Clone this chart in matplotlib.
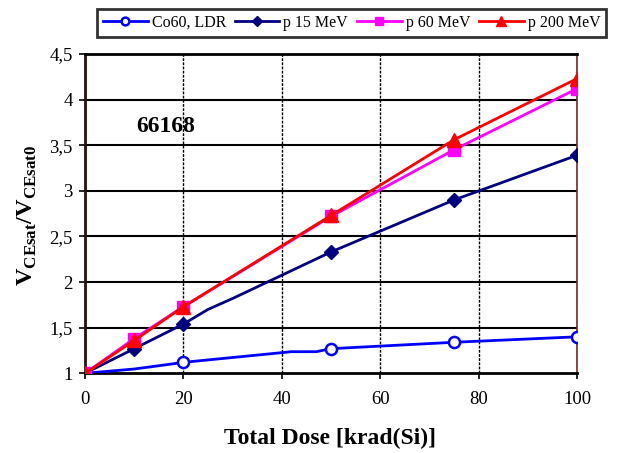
import matplotlib
matplotlib.use('Agg')
import matplotlib.pyplot as plt

plt.rcParams['font.family'] = ['Liberation Serif', 'DejaVu Serif']
plt.rcParams['mathtext.fontset'] = 'custom'
plt.rcParams['mathtext.rm'] = 'Liberation Serif'
plt.rcParams['mathtext.bf'] = 'Liberation Serif:bold'

# dose in krad(Si) and normalised VCEsat for each irradiation
co60_dose = [0, 10, 15, 20, 42, 47, 50, 75, 100]
co60_val = [1.0, 1.047, 1.083, 1.12, 1.237, 1.237, 1.27, 1.34, 1.40]
co60_marks = [0, 3, 6, 7, 8]

p15_dose = [0, 10, 20, 25, 30, 50, 75, 100]
p15_val = [1.0, 1.27, 1.54, 1.70, 1.82, 2.33, 2.90, 3.39]
p15_marks = [0, 1, 2, 5, 6, 7]

p60_dose = [0, 10, 20, 50, 75, 100]
p60_val = [1.0, 1.38, 1.73, 2.72, 3.45, 4.12]

p200_dose = [0, 10, 20, 50, 75, 100]
p200_val = [1.0, 1.36, 1.73, 2.73, 3.56, 4.23]

labels = ['Co60, LDR', 'p 15 MeV', 'p 60 MeV', 'p 200 MeV']
xticks = [0, 20, 40, 60, 80, 100]
yticks = [1, 1.5, 2, 2.5, 3, 3.5, 4, 4.5]

fig = plt.figure(figsize=(6.17, 4.53), dpi=100)
ax = fig.add_axes([85 / 617, 1 - 373.3 / 453, 492 / 617, 319.3 / 453])

# grid: solid horizontal, dashed vertical
for y in yticks[1:]:
    ax.axhline(y, color='black', lw=1.5, zorder=1)
for x in xticks[1:]:
    ax.axvline(x, color='black', lw=1.0, ls=(0, (2, 1)), zorder=1)

ax.plot(co60_dose, co60_val, color='#0000FF', lw=2, marker='o', markevery=co60_marks,
        ms=8, mfc='white', mec='#0000FF', mew=1.8, label=labels[0], zorder=3)
ax.plot(p15_dose, p15_val, color='#000080', lw=2, marker='D', markevery=p15_marks,
        ms=7.5, mfc='#000080', mec='#000080', label=labels[1], zorder=3)
ax.plot(p60_dose, p60_val, color='#FF00FF', lw=2, marker='s',
        ms=8, mfc='#FF00FF', mec='#FF00FF', label=labels[2], zorder=3)
ax.plot(p200_dose, p200_val, color='#FF0000', lw=2, marker='^',
        ms=10.5, mfc='#FF0000', mec='#FF0000', label=labels[3], zorder=4)

ax.set_xlim(0, 100)
ax.set_ylim(1, 4.5)
ax.set_xticks(xticks)
ax.set_yticks(yticks)
ax.set_yticklabels([('%g' % v).replace('.', ',') for v in yticks])
ax.tick_params(direction='out', length=4, width=1.2, labelsize=13.5, pad=5)
ax.tick_params(axis='x', pad=9)

ax.spines['left'].set_color('#2b0f0f')
ax.spines['left'].set_linewidth(2)
ax.spines['bottom'].set_color('black')
ax.spines['bottom'].set_linewidth(2)
ax.spines['top'].set_color('black')
ax.spines['top'].set_linewidth(2)
ax.spines['right'].set_color('#7a2a2a')
ax.spines['right'].set_linewidth(1.2)

ax.text(16.3, 3.70, '66168', fontsize=17, fontweight='bold', ha='center', va='center')

fig.text(330 / 617, 1 - 438 / 453, 'Total Dose [krad(Si)]', fontsize=17,
         fontweight='bold', ha='center', va='center')
fig.text(27 / 617, 1 - 215 / 453,
         r'$\mathbf{V}_{\mathbf{CEsat}}\mathbf{/V}_{\mathbf{CEsat0}}$',
         fontsize=17.5, rotation=90, ha='center', va='center')

leg = fig.legend(loc='center', bbox_to_anchor=(351.5 / 617, 1 - 23 / 453),
                 ncol=4, fontsize=11.5, frameon=True, fancybox=False, markerscale=0.7,
                 handlelength=2.8, handletextpad=0.25, columnspacing=0.55,
                 borderaxespad=0, borderpad=0.35)
leg.get_frame().set_edgecolor('black')
leg.get_frame().set_linewidth(2)

fig.savefig('out.png', dpi=100)
